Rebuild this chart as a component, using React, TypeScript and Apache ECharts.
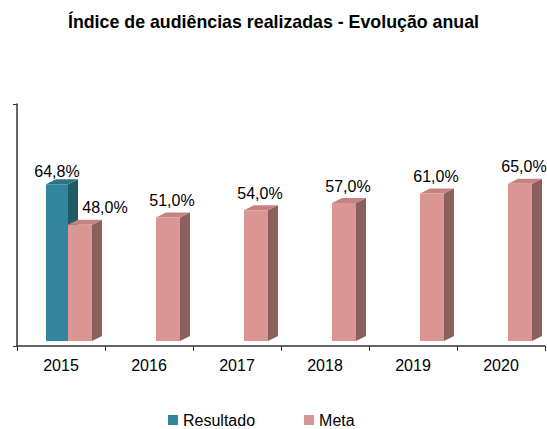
import React, { useEffect, useRef } from "react";
import * as echarts from "echarts";

const categories = ["2015", "2016", "2017", "2018", "2019", "2020"];
const resultado: (number | null)[] = [64.8, null, null, null, null, null];
const meta: (number | null)[] = [48.0, 51.0, 54.0, 57.0, 61.0, 65.0];

const FONT = "'Liberation Sans', Arial, sans-serif";
const TEAL = { front: "#31859C", side: "#215A69", top: "#2A7487" };
const PINK = { front: "#D99694", side: "#8C5E5D", top: "#C48381" };
const LIFT = 5;
const DX = 10;
const DY = 5;

const fmt = (v: number) => v.toFixed(1).replace(".", ",") + "%";

function makeRender(kind: "r" | "m") {
  return (params: any, api: any) => {
    const idx = api.value(0);
    const v = api.value(1);
    if (v == null || isNaN(v)) return null;
    const top = api.coord([idx, v]);
    const base = api.coord([idx, 0]);
    const c = top[0];
    const x0 = kind === "r" ? c - 15 : c + 7;
    const w = kind === "r" ? 22 : 24;
    const yT = top[1] - LIFT;
    const yB = base[1] - LIFT;
    const col = kind === "r" ? TEAL : PINK;
    let lx = x0 + w / 2;
    let ly = yT - 13;
    if (kind === "m") {
      lx = x0 + w / 2 + 4;
      ly = yT - 17;
      if (resultado[idx] != null) lx += 21;
    }
    return {
      type: "group",
      children: [
        {
          type: "polygon",
          shape: { points: [[x0 + w, yT], [x0 + w + DX, yT - DY], [x0 + w + DX, yB - DY], [x0 + w, yB]] },
          style: { fill: col.side },
        },
        {
          type: "polygon",
          shape: { points: [[x0, yT], [x0 + DX, yT - DY], [x0 + w + DX, yT - DY], [x0 + w, yT]] },
          style: { fill: col.top },
        },
        {
          type: "rect",
          shape: { x: x0, y: yT, width: w, height: yB - yT },
          style: { fill: col.front },
        },
        {
          type: "text",
          style: {
            text: fmt(v),
            x: lx,
            y: ly,
            align: "center",
            verticalAlign: "middle",
            fill: "#000",
            fontSize: 16,
            fontFamily: FONT,
          },
        },
      ],
    };
  };
}

export default function App() {
  const ref = useRef<HTMLDivElement>(null);
  useEffect(() => {
    if (!ref.current) return;
    document.body.style.margin = "0";
    const chart = echarts.init(ref.current, undefined, { renderer: "svg" });
    const toData = (arr: (number | null)[]) =>
      arr.map((v, i) => [i, v]).filter((d) => d[1] != null);
    chart.setOption({
      animation: false,
      color: [TEAL.front, PINK.front],
      title: {
        text: "Índice de audiências realizadas - Evolução anual",
        left: "center",
        top: 8,
        textStyle: { fontSize: 17.8, fontWeight: "bold", color: "#000", fontFamily: FONT },
      },
      legend: {
        left: 163,
        top: 407,
        itemWidth: 10,
        itemHeight: 10,
        itemGap: 49,
        icon: "rect",
        textStyle: { fontSize: 16, color: "#000", fontFamily: FONT },
        data: ["Resultado", "Meta"],
      },
      grid: { left: 17, right: 2, top: 104, bottom: 83, containLabel: false },
      xAxis: {
        type: "category",
        data: categories,
        boundaryGap: true,
        axisLine: { lineStyle: { color: "#333", width: 1.5 } },
        axisTick: { show: true, length: 5, lineStyle: { color: "#333" } },
        axisLabel: { fontSize: 16, color: "#000", fontFamily: FONT, margin: 11 },
      },
      yAxis: {
        type: "value",
        min: 0,
        max: 100,
        interval: 100,
        axisLine: { show: true, lineStyle: { color: "#333", width: 1.5 } },
        axisTick: { show: true, length: 4, lineStyle: { color: "#333" } },
        axisLabel: { show: false },
        splitLine: { show: false },
      },
      series: [
        {
          name: "Resultado",
          type: "custom",
          itemStyle: { color: TEAL.front },
          renderItem: makeRender("r"),
          encode: { x: 0, y: 1 },
          data: toData(resultado),
          clip: false,
        },
        {
          name: "Meta",
          type: "custom",
          itemStyle: { color: PINK.front },
          renderItem: makeRender("m"),
          encode: { x: 0, y: 1 },
          data: toData(meta),
          clip: false,
        },
      ],
    });
    return () => chart.dispose();
  }, []);
  return <div ref={ref} style={{ width: 547, height: 429 }} />;
}
